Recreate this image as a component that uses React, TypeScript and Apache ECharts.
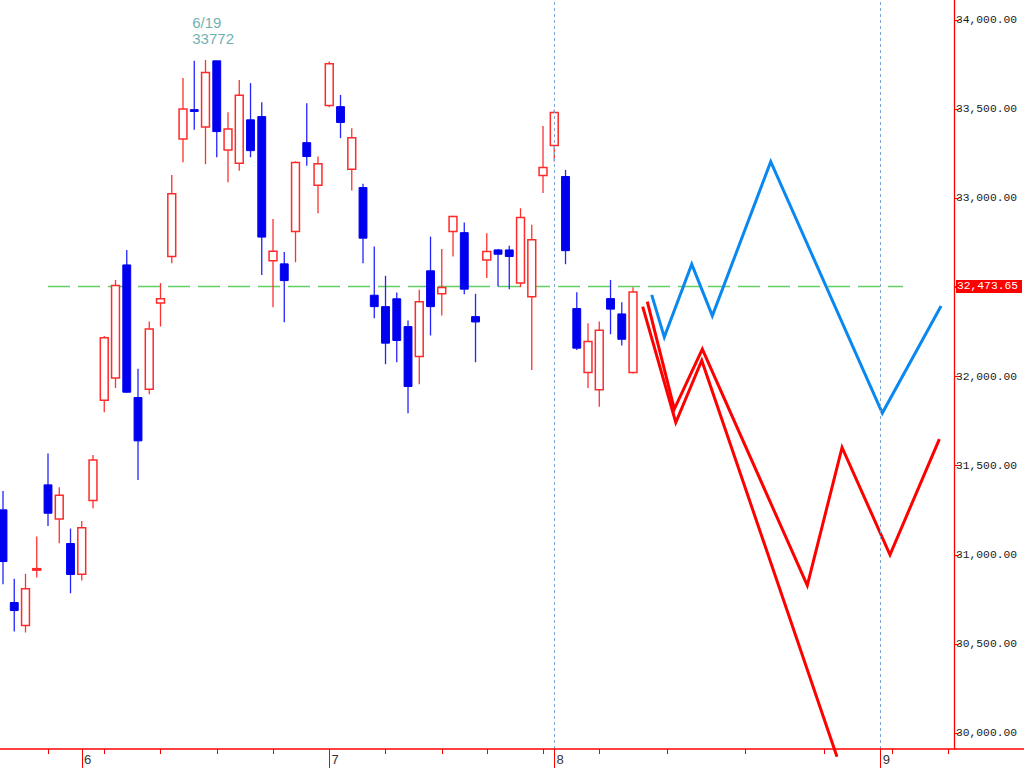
import React, { useEffect, useRef } from "react";
import * as echarts from "echarts";

// Daily candles (index 0 = first visible trading day)
const opens = [31252, 30732, 30603, 30915, 31392, 31200, 31063, 30891, 31304, 31867,
  31992, 32626, 31882, 31929, 32412, 32673, 33332, 33497, 33400, 33771,
  33270, 33197, 33440, 33458, 32650, 32632, 32813, 33312, 33073, 33520,
  33514, 33163, 33060, 32456, 32392, 32436, 32280, 32112, 32593, 32464,
  32813, 32807, 32336, 32653, 32710, 32710, 32524, 32448, 33127, 33296,
  33122, 32381, 32022, 31925, 32437, 32351, 32022];
const closes = [30962, 30687, 30809, 30922, 31233, 31334, 30889, 31152, 31531, 32218,
  32510, 31912, 31639, 32266, 32436, 33025, 33501, 33487, 33705, 33374,
  33389, 33578, 33267, 32782, 32703, 32538, 33200, 33234, 33193, 33754,
  33425, 33340, 32776, 32392, 32187, 32202, 31944, 32420, 32392, 32499,
  32897, 32490, 32306, 32701, 32686, 32673, 32892, 32767, 33172, 33481,
  32706, 32159, 32196, 32260, 32378, 32209, 32474];
const lows = [30835, 30569, 30564, 30872, 31162, 31065, 30784, 30855, 31261, 31800,
  31935, 31907, 31420, 31901, 32280, 32636, 33202, 33384, 33191, 33230,
  33090, 33154, 33230, 32570, 32389, 32305, 32641, 33182, 32916, 33511,
  33337, 33043, 32636, 32327, 32069, 32080, 31794, 31957, 32230, 32342,
  32673, 32462, 32080, 32552, 32505, 32490, 32501, 32037, 33029, 33206,
  32630, 32149, 31935, 31831, 32237, 32174, 32017];
const highs = [31358, 30866, 30893, 31102, 31568, 31379, 31147, 31190, 31560, 32227,
  32542, 32710, 32043, 32308, 32524, 33131, 33674, 33771, 33776, 33772,
  33483, 33664, 33646, 33539, 32884, 32698, 33207, 33533, 33234, 33767,
  33580, 33393, 33081, 32729, 32565, 32471, 32314, 32486, 32785, 32716,
  32902, 32864, 32464, 32804, 32716, 32733, 32944, 32851, 33406, 33496,
  33159, 32473, 32299, 32308, 32542, 32417, 32501];

// Forecast polylines (x in candle-slot units)
const blueLineX = [57.66, 58.78, 61.22, 63.05, 68.24, 78.16, 83.38];
const blueLineY = [32458, 32221, 32630, 32340, 33205, 31795, 32396];
const redAX = [56.86, 59.8, 62.11, 74.13];
const redAY = [32392, 31742, 32090, 29867];
const redBX = [57.27, 59.67, 62.16, 71.49, 74.58, 78.84, 83.23];
const redBY = [32420, 31817, 32153, 30828, 31602, 31000, 31649];

// Axes
const yTicks = [30000, 30500, 31000, 31500, 32000, 32500, 33000, 33500, 34000];
const monthTickIdx = [7, 29, 49, 78];
const monthLabels = ["6", "7", "8", "9"];
const weekTickIdx = [4, 9, 14, 19, 24, 34, 39, 43, 48, 53, 59, 66, 73, 79, 84];
const monthGuideIdx = [49, 78];

// Price line / annotation
const priceLineRange = [4, 80];
const priceLineLevel = 32505;
const lastPrice = 32473.65;
const peakIdx = 19;
const peakValue = 33772;
const peakDate = "6/19";

const X_MIN = -0.2667;
const X_MAX = 84.53;
const Y_MIN = 29910.3;
const Y_MAX = 34112.2;

const fmt = (v: number) =>
  v.toLocaleString("en-US", { minimumFractionDigits: 2, maximumFractionDigits: 2 });

export default function App() {
  const ref = useRef<HTMLDivElement>(null);

  useEffect(() => {
    if (!ref.current) return;
    const chart = echarts.init(ref.current, undefined, { renderer: "svg" });

    const candleData = opens.map((o, i) => [i, o, closes[i], lows[i], highs[i]]);
    const zip = (xs: number[], ys: number[]) => xs.map((x, i) => [x, ys[i]]);

    const option: any = {
      animation: false,
      backgroundColor: "#ffffff",
      grid: { left: 0, right: 70, top: 0, bottom: 19, containLabel: false, outerBoundsMode: "none" },
      xAxis: [
        {
          type: "value", min: X_MIN, max: X_MAX, position: "bottom",
          axisLine: { show: false, onZero: false }, splitLine: { show: false },
          axisTick: { show: true, customValues: weekTickIdx, length: 5, lineStyle: { color: "#ff0000", width: 1 } },
          axisLabel: { show: false },
        },
        {
          type: "value", min: X_MIN, max: X_MAX, position: "bottom",
          axisLine: { show: false, onZero: false }, splitLine: { show: false },
          axisTick: { show: true, customValues: monthTickIdx, length: 19, lineStyle: { color: "#ff0000", width: 1 } },
          axisLabel: {
            show: true, customValues: monthTickIdx,
            formatter: (v: number) => monthLabels[monthTickIdx.indexOf(Math.round(v))] ?? "",
            align: "left", verticalAlign: "top", margin: 5, padding: [0, 0, 0, 2],
            fontFamily: "Liberation Mono", fontSize: 13, color: "#333333",
          },
        },
      ],
      yAxis: [
        {
          type: "value", position: "right", min: Y_MIN, max: Y_MAX,
          splitLine: { show: false },
          axisLine: { show: true, onZero: false, lineStyle: { color: "#ff0000", width: 1.3 } },
          axisTick: { show: true, customValues: yTicks, length: 5, lineStyle: { color: "#ff0000", width: 1 } },
          axisLabel: {
            show: true, customValues: yTicks, formatter: (v: number) => fmt(v), margin: 2, align: "left",
            fontFamily: "Liberation Mono", fontSize: 11.3, color: "#1a1a1a",
          },
        },
        {
          type: "value", position: "right", min: Y_MIN, max: Y_MAX,
          splitLine: { show: false },
          axisLine: { show: false, onZero: false },
          axisTick: { show: true, customValues: [priceLineLevel], length: 5, lineStyle: { color: "#ff0000", width: 1 } },
          axisLabel: {
            show: true, customValues: [priceLineLevel], formatter: () => fmt(lastPrice), margin: 2, align: "left",
            fontFamily: "Liberation Mono", fontSize: 11.3, color: "#ffffff",
            backgroundColor: "#ff0000", padding: [1, 4, 0, 1], lineHeight: 12,
          },
        },
      ],
      graphic: [
        { type: "line", shape: { x1: 0, y1: 749, x2: 1024, y2: 749 }, style: { stroke: "#ff0000", lineWidth: 1.5 }, z: 100 },
      ],
      series: [
        {
          type: "line", name: "price", xAxisIndex: 0, yAxisIndex: 0,
          data: [[priceLineRange[0], priceLineLevel], [priceLineRange[1], priceLineLevel]],
          symbol: "none", z: 1,
          lineStyle: { color: "#62d062", width: 1.5, type: [22, 8] },
          markLine: {
            silent: true, symbol: "none", label: { show: false },
            lineStyle: { color: "#7aa6d6", width: 1, type: [3, 3] },
            data: monthGuideIdx.map((x) => ({ xAxis: x })),
          },
        },
        {
          type: "custom", name: "candles", xAxisIndex: 0, yAxisIndex: 0, z: 3,
          data: candleData,
          encode: { x: 0, y: [1, 2, 3, 4] },
          renderItem: (params: any, api: any) => {
            const x = api.value(0);
            const o = api.value(1);
            const c = api.value(2);
            const l = api.value(3);
            const h = api.value(4);
            const pO = api.coord([x, o]);
            const pC = api.coord([x, c]);
            const pL = api.coord([x, l]);
            const pH = api.coord([x, h]);
            const w = api.size([1, 0])[0] * 0.7;
            const up = c >= o;
            const top = Math.min(pO[1], pC[1]);
            let bot = Math.max(pO[1], pC[1]);
            if (bot - top < 1.5) bot = top + 1.5;
            const cx = pO[0];
            const col = up ? "#ff2a2a" : "#0000f0";
            const wickCol = up ? "#ff3030" : "#2424ff";
            return {
              type: "group",
              children: [
                { type: "line", shape: { x1: cx, y1: pH[1], x2: cx, y2: top }, style: { stroke: wickCol, lineWidth: 1.3 } },
                { type: "line", shape: { x1: cx, y1: bot, x2: cx, y2: pL[1] }, style: { stroke: wickCol, lineWidth: 1.3 } },
                {
                  type: "rect",
                  shape: { x: cx - w / 2, y: top, width: w, height: bot - top },
                  style: up
                    ? { fill: "#ffffff", stroke: col, lineWidth: 1.5 }
                    : { fill: col, stroke: col, lineWidth: 1 },
                },
              ],
            };
          },
        },
        {
          type: "line", name: "blue", data: zip(blueLineX, blueLineY), symbol: "none", z: 4,
          lineStyle: { color: "#0a88f0", width: 3, join: "miter", cap: "butt" },
        },
        {
          type: "line", name: "redA", data: zip(redAX, redAY), symbol: "none", z: 4, clip: false,
          lineStyle: { color: "#ff0000", width: 3, join: "miter", cap: "butt" },
        },
        {
          type: "line", name: "redB", data: zip(redBX, redBY), symbol: "none", z: 4,
          lineStyle: { color: "#ff0000", width: 3, join: "miter", cap: "butt" },
        },
        {
          type: "scatter", name: "peak", data: [[peakIdx, peakValue]], symbolSize: 1, z: 5,
          itemStyle: { color: "rgba(0,0,0,0)" },
          label: {
            show: true, position: [-24, -46], align: "left",
            formatter: () => `${peakDate}\n${peakValue}`,
            fontFamily: "Liberation Sans", fontSize: 15, lineHeight: 16, color: "#4a9b9b",
          },
        },
      ],
    };

    chart.setOption(option);
    return () => chart.dispose();
  }, []);

  return (
    <div
      ref={ref}
      style={{ position: "absolute", left: 0, top: 0, width: 1024, height: 768 }}
    />
  );
}
